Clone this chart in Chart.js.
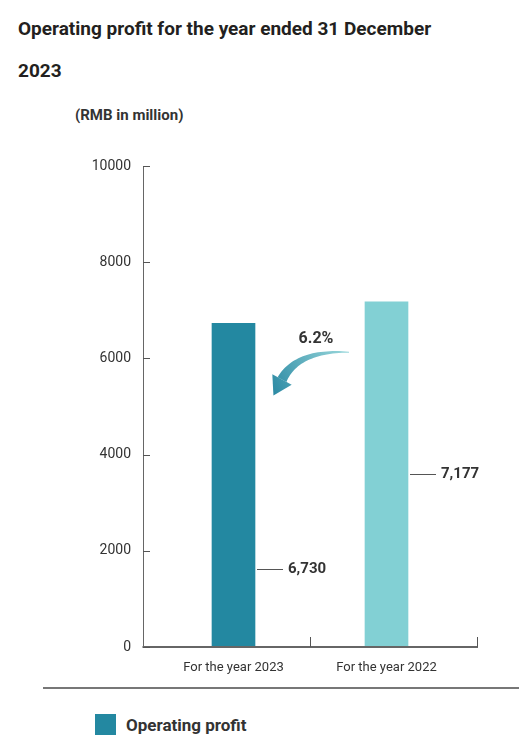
<!DOCTYPE html>
<html>
<head>
<meta charset="utf-8">
<script src="https://cdn.jsdelivr.net/npm/chart.js@4.4.1/dist/chart.umd.min.js"></script>
<style>
  html, body { margin: 0; padding: 0; background: #fff; }
  body { width: 519px; height: 743px; position: relative; overflow: hidden; font-family: Roboto, "Liberation Sans", sans-serif; color: #231f20; }
  .title { position: absolute; left: 18px; top: 8px; width: 480px; font-size: 19px; font-weight: bold; line-height: 42px; }
  .unit { position: absolute; left: 75px; top: 106px; font-size: 15px; font-weight: bold; color: #333; }
  .chart-box { position: absolute; left: 0; top: 150px; width: 519px; height: 530px; }
  .rule { position: absolute; left: 43px; top: 687px; width: 476px; height: 0; border-top: 2px solid #777; }
  .legend { position: absolute; left: 95px; top: 714px; font-size: 17px; font-weight: bold; color: #333; display: flex; align-items: center; }
  .legend span.box { width: 21px; height: 21px; background: #2388a1; margin-right: 10px; display: inline-block; }
</style>
</head>
<body>
<div class="title">Operating profit for the year ended 31 December<br>2023</div>
<div class="unit">(RMB in million)</div>
<div class="chart-box"><canvas id="profitChart"></canvas></div>
<div class="rule"></div>
<div class="legend"><span class="box"></span>Operating profit</div>

<script>
var periods = ["For the year 2023", "For the year 2022"];
var operatingProfit = [6730, 7177];
var barColors = ["#2388a1", "#82d0d4"];
var yTicks = [0, 2000, 4000, 6000, 8000, 10000];
var changeLabel = "6.2%";
// where along each bar the value callout sits (share of bar height)
var calloutAt = [0.24, 0.5];

function line(ctx, x1, y1, x2, y2) {
    ctx.beginPath();
    ctx.moveTo(x1, y1);
    ctx.lineTo(x2, y2);
    ctx.stroke();
}

var marksPlugin = {
    id: "marks",
    afterDatasetsDraw: function (chart) {
        var ctx = chart.ctx;
        var xs = chart.scales.x;
        var ys = chart.scales.y;
        var area = chart.chartArea;
        var bars = chart.getDatasetMeta(0).data;
        // axes run a little past the plot area on both sides
        var axisLeft = area.left - 14;
        var axisRight = area.right + 15;
        var axisBottom = Math.round(area.bottom);
        ctx.save();

        ctx.strokeStyle = "#666";
        ctx.lineWidth = 2;
        line(ctx, axisLeft - 0.5, axisBottom, axisRight, axisBottom);
        ctx.lineWidth = 1;
        line(ctx, axisLeft + 0.5, area.top, axisLeft + 0.5, axisBottom);

        // inward ticks on both axes
        ctx.strokeStyle = "#555";
        yTicks.forEach(function (v) {
            var py = Math.round(ys.getPixelForValue(v)) + 0.5;
            line(ctx, axisLeft, py, axisLeft + 7, py);
        });
        var mid = Math.round(xs.getPixelForValue(0.5)) + 0.5;
        line(ctx, mid, axisBottom, mid, axisBottom - 10);
        line(ctx, axisRight - 0.5, axisBottom, axisRight - 0.5, axisBottom - 10);

        // value callouts with leader lines
        ctx.font = "bold 15px Roboto, sans-serif";
        ctx.fillStyle = "#333";
        ctx.textBaseline = "middle";
        ctx.textAlign = "left";
        bars.forEach(function (bar, i) {
            var v = operatingProfit[i];
            var py = Math.round(ys.getPixelForValue(v * calloutAt[i])) + 0.5;
            var x0 = bar.x + bar.width / 2 + 2;
            line(ctx, x0, py, x0 + 26, py);
            ctx.fillText(v.toLocaleString("en-US"), x0 + 31, py);
        });

        // curved change arrow from the later bar back to the earlier one
        var b1 = bars[0], b2 = bars[1];
        var tail = { x: b2.x - b2.width / 2 - 16, y: ys.getPixelForValue(6130) };
        var ctrl = { x: tail.x - 52, y: tail.y - 2 };
        var end = { x: b1.x + b1.width / 2 + 27, y: ys.getPixelForValue(5560) };
        var pts = [], n = 30;
        for (var k = 0; k <= n; k++) {
            var t = k / n, u = 1 - t;
            pts.push({
                x: u * u * tail.x + 2 * u * t * ctrl.x + t * t * end.x,
                y: u * u * tail.y + 2 * u * t * ctrl.y + t * t * end.y
            });
        }
        var left = [], right = [];
        for (var k = 0; k <= n; k++) {
            var a = pts[Math.max(0, k - 1)], b = pts[Math.min(n, k + 1)];
            var dx = b.x - a.x, dy = b.y - a.y, len = Math.hypot(dx, dy);
            var nx = -dy / len, ny = dx / len;
            var w = 0.5 + 4.5 * (k / n);
            left.push({ x: pts[k].x + nx * w, y: pts[k].y + ny * w });
            right.push({ x: pts[k].x - nx * w, y: pts[k].y - ny * w });
        }
        var grad = ctx.createLinearGradient(tail.x, tail.y, end.x - 15, end.y + 15);
        grad.addColorStop(0, "#9ad8dc");
        grad.addColorStop(1, "#2585a0");
        ctx.fillStyle = grad;
        ctx.beginPath();
        ctx.moveTo(left[0].x, left[0].y);
        left.forEach(function (p) { ctx.lineTo(p.x, p.y); });
        for (var k = n; k >= 0; k--) ctx.lineTo(right[k].x, right[k].y);
        ctx.closePath();
        ctx.fill();

        // arrow head
        var pa = pts[n - 1], pb = pts[n];
        var dx = pb.x - pa.x, dy = pb.y - pa.y, len = Math.hypot(dx, dy);
        var ux = dx / len, uy = dy / len, nx = -uy, ny = ux;
        ctx.beginPath();
        ctx.moveTo(pb.x + nx * 11, pb.y + ny * 11);
        ctx.lineTo(pb.x + ux * 18, pb.y + uy * 18);
        ctx.lineTo(pb.x - nx * 11, pb.y - ny * 11);
        ctx.closePath();
        ctx.fill();

        ctx.font = "bold 16px Roboto, sans-serif";
        ctx.fillStyle = "#333";
        ctx.textAlign = "center";
        ctx.fillText(changeLabel, (b1.x + b2.x) / 2 + 6, tail.y - 13);
        ctx.restore();
    }
};

function renderProfitChart() {
    var ctx = document.getElementById("profitChart").getContext("2d");
    new Chart(ctx, {
        type: "bar",
        data: {
            labels: periods,
            datasets: [{
                label: "Operating profit",
                data: operatingProfit,
                backgroundColor: barColors,
                borderWidth: 0,
                barThickness: 43
            }]
        },
        options: {
            responsive: true,
            maintainAspectRatio: false,
            animation: false,
            layout: { padding: { left: 0, right: 56, top: 16, bottom: 0 } },
            plugins: {
                legend: { display: false },
                tooltip: { enabled: false }
            },
            scales: {
                x: {
                    grid: { display: false, drawTicks: false },
                    border: { display: false },
                    ticks: { color: "#333", font: { family: "Roboto", size: 13 }, padding: 13, maxRotation: 0 },
                    afterFit: function (scale) {
                        scale.height = 33;
                        scale.paddingLeft = 0;
                        scale.paddingRight = 0;
                    }
                },
                y: {
                    min: 0,
                    max: 10000,
                    afterBuildTicks: function (scale) {
                        scale.ticks = yTicks.map(function (v) { return { value: v }; });
                    },
                    grid: { display: false, drawTicks: false },
                    border: { display: false },
                    ticks: {
                        color: "#333",
                        font: { family: "Roboto", size: 14 },
                        padding: 26,
                        callback: function (value) { return String(value); }
                    },
                    afterFit: function (scale) {
                        scale.width = 157;
                        scale.paddingTop = 0;
                        scale.paddingBottom = 0;
                    }
                }
            }
        },
        plugins: [marksPlugin]
    });
}

document.addEventListener("DOMContentLoaded", renderProfitChart);
</script>
</body>
</html>
